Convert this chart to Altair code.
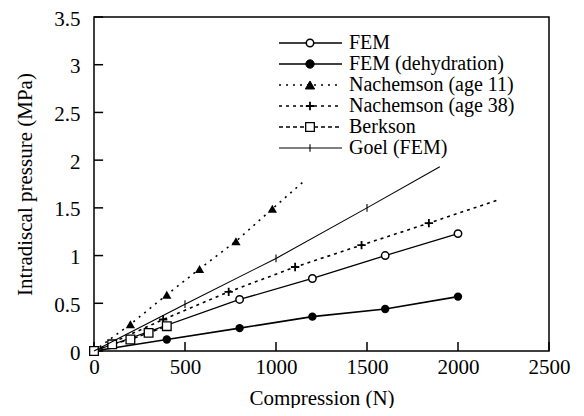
import altair as alt
import pandas as pd

# ---------------- data ----------------
fem_x = [0, 800, 1200, 1600, 2000]
fem_y = [0, 0.54, 0.76, 1.00, 1.23]

dehyd_x = [0, 400, 800, 1200, 1600, 2000]
dehyd_y = [0, 0.12, 0.24, 0.36, 0.44, 0.57]

nach11_x = [200, 400, 580, 780, 980]
nach11_y = [0.28, 0.59, 0.86, 1.15, 1.49]
nach11_line_x = [0, 200, 400, 580, 780, 980, 1160]
nach11_line_y = [0, 0.28, 0.59, 0.86, 1.15, 1.49, 1.79]

nach38_x = [380, 740, 1105, 1470, 1840]
nach38_y = [0.33, 0.62, 0.88, 1.11, 1.34]
nach38_line_x = [0, 380, 740, 1105, 1470, 1840, 2215]
nach38_line_y = [0, 0.33, 0.62, 0.88, 1.11, 1.34, 1.58]

berk_x = [0, 100, 200, 300, 400]
berk_y = [0, 0.07, 0.12, 0.19, 0.26]

goel_x = [500, 1000, 1500]
goel_y = [0.49, 0.97, 1.50]
goel_line_x = [0, 500, 1000, 1500, 1900]
goel_line_y = [0, 0.49, 0.97, 1.50, 1.93]

x_ticks = [0, 500, 1000, 1500, 2000, 2500]
y_ticks = [0, 0.5, 1, 1.5, 2, 2.5, 3, 3.5]

legend_labels = ["FEM", "FEM (dehydration)", "Nachemson (age 11)",
                 "Nachemson (age 38)", "Berkson", "Goel (FEM)"]

FONT = "Times New Roman"
FS = 21
LFS = 20
PLUS = "M-1,0L1,0M0,-1L0,1"
VTICK = "M0,-1L0,1"

xs = alt.Scale(domain=[0, 2500], nice=False, zero=False)
ys = alt.Scale(domain=[0, 3.5], nice=False, zero=False)

X_AXIS = alt.Axis(values=x_ticks, title="Compression (N)", format="d", grid=False,
                  domain=False, ticks=False, tickSize=0, labelPadding=5, labelFontSize=FS,
                  titleFontSize=FS, titleFontWeight="normal", titleY=47,
                  titleBaseline="middle", labelColor="black", titleColor="black",
                  labelFlush=False, labelFont=FONT, titleFont=FONT)
Y_AXIS = alt.Axis(values=y_ticks, title="Intradiscal pressure (MPa)", format="~g",
                  grid=False, domain=False, ticks=False, tickSize=0, labelPadding=14,
                  labelOffset=2, labelFontSize=FS, titleFontSize=FS,
                  titleFontWeight="normal", titleX=-69, titleY=167,
                  titleBaseline="middle", titleAngle=-90, labelColor="black",
                  titleColor="black", labelFlush=False, labelFont=FONT, titleFont=FONT)


def df(xv, yv):
    return pd.DataFrame({"x": xv, "y": yv})


def enc(chart):
    return chart.encode(
        x=alt.X("x:Q", scale=xs, axis=X_AXIS),
        y=alt.Y("y:Q", scale=ys, axis=Y_AXIS),
    )


layers = []

# inward frame ticks, drawn through the scales
xt = pd.DataFrame({"x": x_ticks, "y0": [0] * len(x_ticks), "y1": [0.095] * len(x_ticks)})
layers.append(alt.Chart(xt).mark_rule(color="black", strokeWidth=1.5).encode(
    x=alt.X("x:Q", scale=xs, axis=X_AXIS),
    y=alt.Y("y0:Q", scale=ys, axis=Y_AXIS), y2="y1:Q"))
yt = pd.DataFrame({"y": y_ticks, "x0": [0] * len(y_ticks), "x1": [50] * len(y_ticks)})
layers.append(alt.Chart(yt).mark_rule(color="black", strokeWidth=1.5).encode(
    y=alt.Y("y:Q", scale=ys, axis=Y_AXIS),
    x=alt.X("x0:Q", scale=xs, axis=X_AXIS), x2="x1:Q"))

# FEM
layers.append(enc(alt.Chart(df(fem_x, fem_y)).mark_line(color="black", strokeWidth=1.3)))
layers.append(enc(alt.Chart(df(fem_x[1:], fem_y[1:])).mark_point(
    shape="circle", size=55, filled=True, fill="white", stroke="black", strokeWidth=1.5, opacity=1)))
# FEM dehydration
layers.append(enc(alt.Chart(df(dehyd_x, dehyd_y)).mark_line(color="black", strokeWidth=1.6)))
layers.append(enc(alt.Chart(df(dehyd_x, dehyd_y)).mark_point(
    shape="circle", size=70, filled=True, color="black", opacity=1)))
# Nachemson 11
layers.append(enc(alt.Chart(df(nach11_line_x, nach11_line_y)).mark_line(
    color="black", strokeWidth=1.6, strokeDash=[2, 5])))
layers.append(enc(alt.Chart(df(nach11_x, nach11_y)).mark_point(
    shape="triangle-up", size=85, filled=True, color="black", opacity=1)))
# Nachemson 38
layers.append(enc(alt.Chart(df(nach38_line_x, nach38_line_y)).mark_line(
    color="black", strokeWidth=1.6, strokeDash=[3, 4])))
layers.append(enc(alt.Chart(df(nach38_x, nach38_y)).mark_point(
    shape=PLUS, size=70, stroke="black", strokeWidth=1.8, opacity=1)))
# Berkson
layers.append(enc(alt.Chart(df(berk_x, berk_y)).mark_line(
    color="black", strokeWidth=1.4, strokeDash=[4, 3])))
layers.append(enc(alt.Chart(df(berk_x, berk_y)).mark_point(
    shape="square", size=75, filled=True, fill="white", stroke="black", strokeWidth=1.3, opacity=1)))
# Goel
layers.append(enc(alt.Chart(df(goel_line_x, goel_line_y)).mark_line(color="black", strokeWidth=1.1)))
layers.append(enc(alt.Chart(df(goel_x, goel_y)).mark_point(
    shape=VTICK, size=60, stroke="black", strokeWidth=1.1, opacity=1)))

# ---------------- manual legend (pixel positions in plot area) ----------------
one = pd.DataFrame({"k": [0]})
row_y = [26, 47, 68, 89, 110, 131]
styles = [
    dict(dash=None, sw=1.3, shape="circle", size=55, fill="white", psw=1.5),
    dict(dash=None, sw=1.6, shape="circle", size=70, fill="black", psw=1),
    dict(dash=[2, 5], sw=1.6, shape="triangle-up", size=85, fill="black", psw=1),
    dict(dash=[3, 4], sw=1.6, shape=PLUS, size=70, fill=None, psw=1.8),
    dict(dash=[4, 3], sw=1.4, shape="square", size=75, fill="white", psw=1.3),
    dict(dash=None, sw=1.1, shape=VTICK, size=60, fill=None, psw=1.1),
]
for lab, yy, st in zip(legend_labels, row_y, styles):
    rule_kw = dict(color="black", strokeWidth=st["sw"])
    if st["dash"]:
        rule_kw["strokeDash"] = st["dash"]
    layers.append(alt.Chart(one).mark_rule(**rule_kw).encode(
        x=alt.value(185), x2=alt.value(248), y=alt.value(yy)))
    pkw = dict(shape=st["shape"], size=st["size"], stroke="black",
               strokeWidth=st["psw"], opacity=1)
    if st["fill"]:
        pkw.update(filled=True, fill=st["fill"])
    layers.append(alt.Chart(one).mark_point(**pkw).encode(
        x=alt.value(216), y=alt.value(yy)))
    layers.append(alt.Chart(one).mark_text(
        align="left", baseline="middle", font=FONT, fontSize=LFS, color="black").encode(
        x=alt.value(255), y=alt.value(yy), text=alt.value(lab)))

chart = alt.layer(*layers).properties(
    width=455, height=334,
    autosize=alt.AutoSizeParams(type="none"),
    padding={"left": 86, "top": 9, "right": 22, "bottom": 57},
).configure_view(stroke="black", strokeWidth=1.5)

chart.save("out.html", embed_options={"renderer": "svg", "actions": False})
